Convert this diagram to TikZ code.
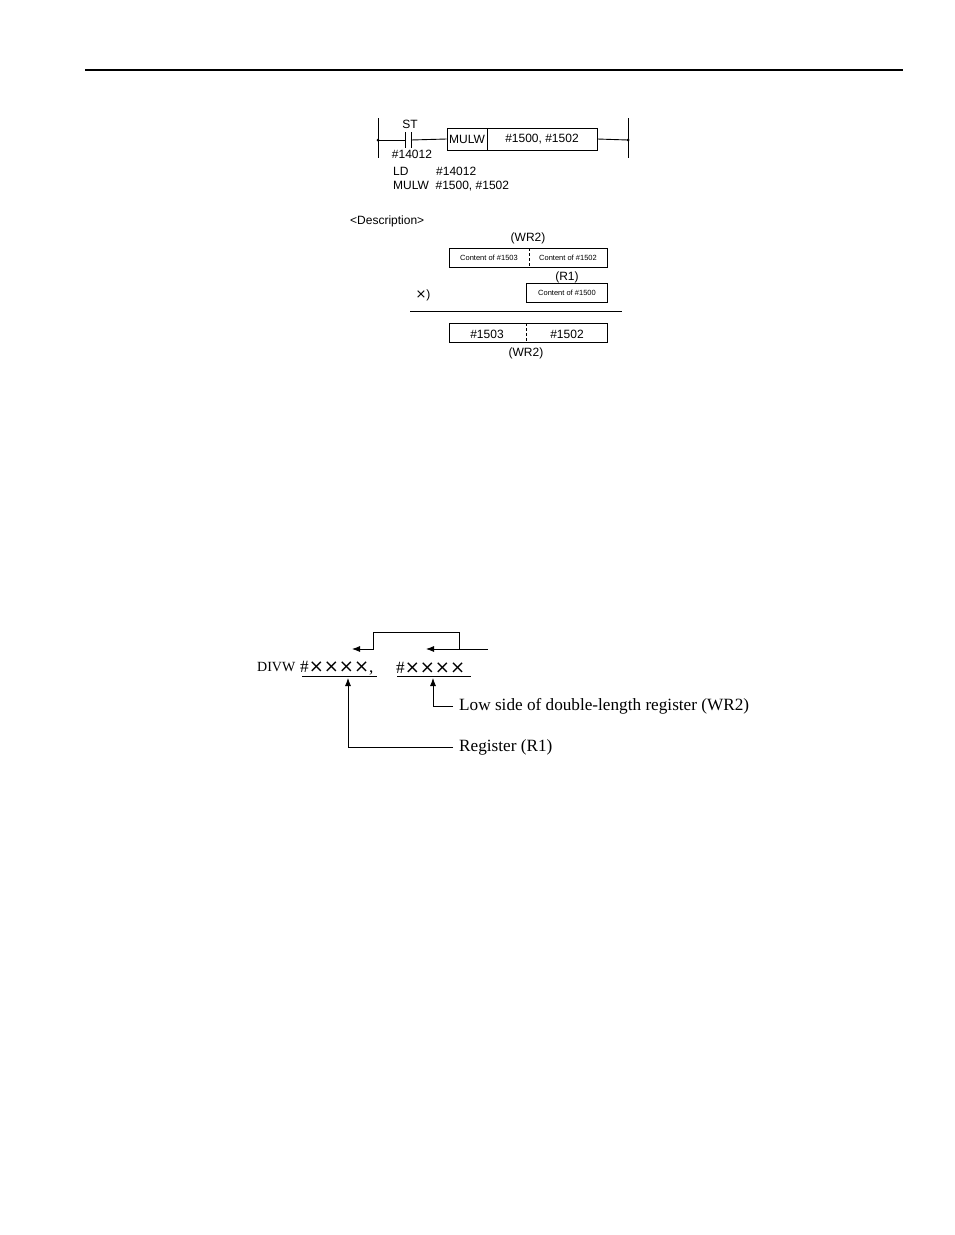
\documentclass[tikz,border=0pt]{standalone}
\usepackage{fontspec}
\usetikzlibrary{arrows.meta}
\setmainfont{Liberation Serif}
\newfontfamily\arial{Liberation Sans}
\newfontfamily\djv{DejaVu Sans}
\begin{document}
\begin{tikzpicture}[x=1pt,y=-1pt,
  ar/.style={font=\arial\fontsize{12}{14}\selectfont,inner sep=0pt},
  sm/.style={font=\arial\fontsize{7.5}{9}\selectfont,inner sep=0pt},
  tm/.style={font=\fontsize{17.2}{20}\selectfont,inner sep=0pt,anchor=west},
  ln/.style={line width=0.9pt},
  arr/.style={line width=0.8pt,-{Latex[length=8pt,width=6pt]}}]
\useasboundingbox (0,0) rectangle (954,1235);
\draw[line width=2pt] (85,70) -- (903,70);
% ladder
\coordinate (lt) at (378,118); \coordinate (lb) at (378,158);
\coordinate (rt) at (628,118); \coordinate (rb) at (628,158);
\draw[ln] (lt) -- (lb); \draw[ln] (rt) -- (rb);
\fill (378,140) circle (1.5); \fill (628,140) circle (1.5);
\draw[ln] (378,140) -- (405,140); \draw[ln] (405,132) -- (405,148);
\draw[ln] (411,132) -- (411,148);
\node[ar] (st) at (410,124) {ST};
\node[ar] (c1) at (412,154) {\#14012};
\node[ln,draw,minimum width=40pt,minimum height=22pt,inner sep=0pt,font=\arial\fontsize{12}{14}\selectfont] (mulw) at (467,139) {MULW};
\node[ln,draw,minimum width=110pt,minimum height=22pt,inner sep=0pt,font=\arial\fontsize{12}{14}\selectfont] (args) at (542,139) {\#1500, \#1502};
\draw[ln] (411,140) -- (mulw.west);
\draw[ln] (args.east) -- (628,140);
\node[ar,anchor=west] (ld) at (393,171) {LD};
\node[ar,anchor=west] (ldv) at (436,171) {\#14012};
\node[ar,anchor=west] (mw) at (393,186) {MULW\ \ \#1500, \#1502};
\node[ar,anchor=west] (desc) at (350,221) {<Description>};
\node[ar] (w1) at (528,238) {(WR2)};
\draw[ln] (449,248) rectangle (607,267);
\draw[densely dashed] (529,248) -- (529,267);
\node[sm] (a1) at (489,258) {Content of \#1503};
\node[sm] (a2) at (568,258) {Content of \#1502};
\node[ar] (r1) at (567,277) {(R1)};
\draw[ln] (526,283) rectangle (607,302);
\node[sm] (a3) at (567,293) {Content of \#1500};
\node[ar] (times) at (423,295) {{\djv\fontsize{13}{15}\selectfont ×})};
\draw[ln] (410,311) -- (622,311);
\draw[ln] (449,323) rectangle (607,342);
\draw[densely dashed] (526,323) -- (526,342);
\node[ar] (b1) at (487,334) {\#1503};
\node[ar] (b2) at (567,334) {\#1502};
\node[ar] (w2) at (526,353) {(WR2)};
% DIVW
\node[tm,font=\fontsize{14}{16}\selectfont] (divw) at (257,667) {DIVW};
\node[tm] (o1) at (300,668) {\#{\djv\fontsize{18}{20}\selectfont ××××},};
\node[tm] (o2) at (396,668) {\#{\djv\fontsize{18}{20}\selectfont ××××}};
\draw[ln] (302,676) -- (377,676);
\draw[ln] (397,676) -- (471,676);
\coordinate (e0) at (488,649);
\draw[arr] (e0) -- (426,649);
\draw[arr] (459,649) -- (459,632) -- (373,632) -- (373,649) -- (352,649);
\node[tm] (low) at (459,706) {Low side of double-length register (WR2)};
\node[tm] (reg) at (459,747) {Register (R1)};
\draw[arr] ([xshift=-6pt]low.west) -- (433,706) -- (433,678);
\draw[arr] ([xshift=-6pt]reg.west) -- (348,747) -- (348,678);
\end{tikzpicture}
\end{document}
